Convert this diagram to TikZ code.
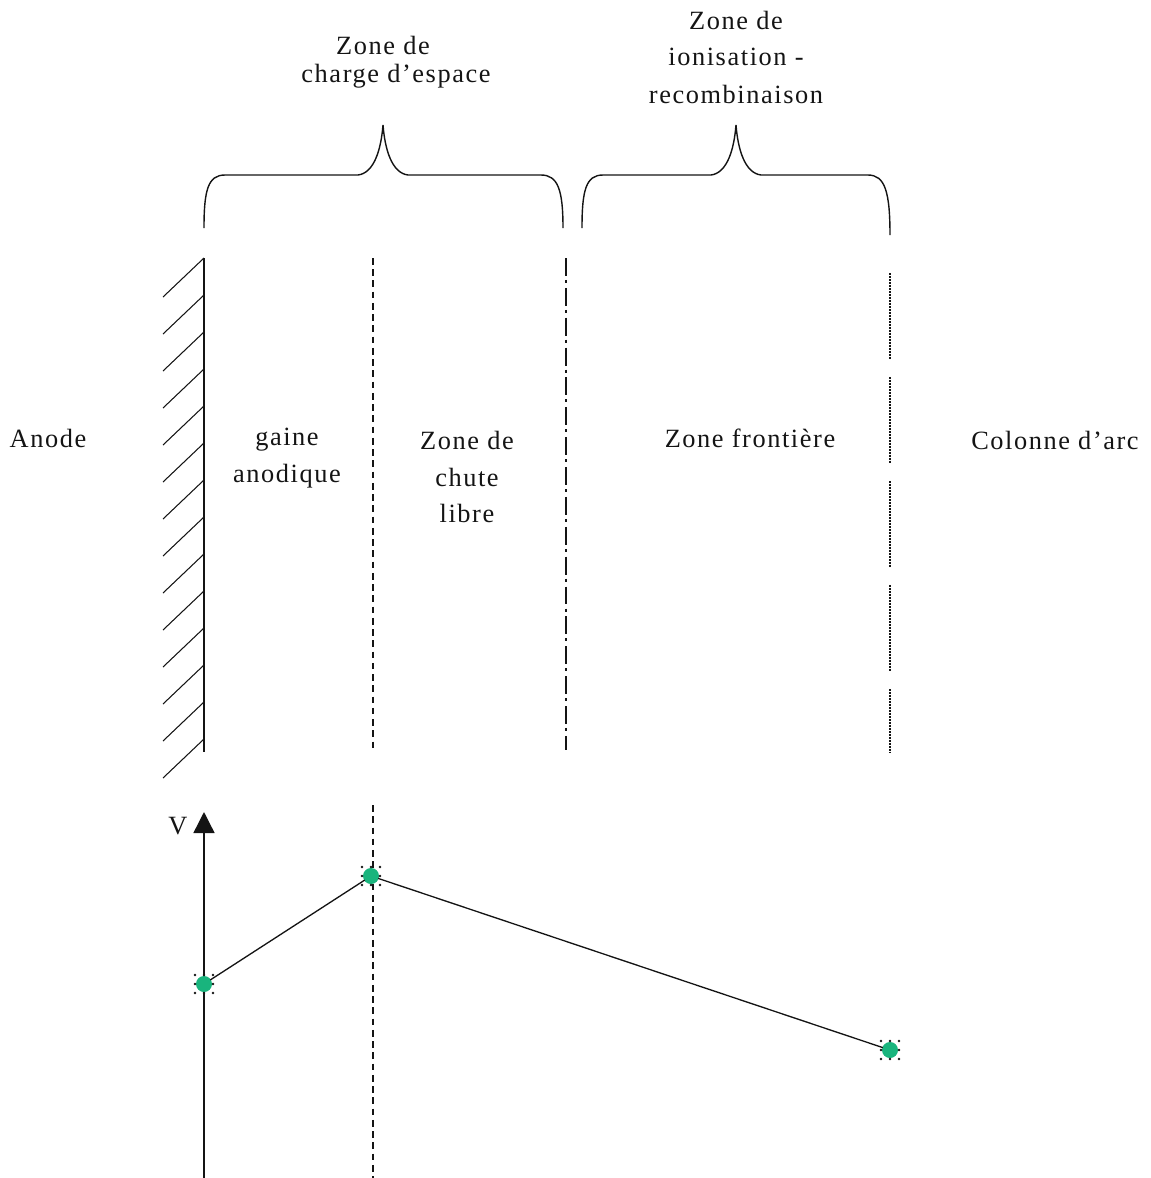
\documentclass[tikz,border=0pt]{standalone}
\usepackage{fontspec}
\setmainfont[LetterSpace=6]{Liberation Serif}
\usetikzlibrary{arrows.meta}
\definecolor{mkgreen}{RGB}{25,180,125}
\definecolor{ink}{RGB}{20,20,20}
\tikzset{
  lbl/.style={font=\fontsize{15}{18}\selectfont, text=ink, inner sep=0pt, anchor=center},
  brace/.style={draw=ink, line width=0.8pt},
  wall/.style={draw=ink, line width=1.5pt},
  hatch/.style={draw=ink, line width=0.6pt},
  dashline/.style={draw=ink, line width=0.8pt, dash pattern=on 3.8pt off 2.6pt},
  dashdot/.style={draw=ink, line width=0.8pt, dash pattern=on 10.2pt off 2.3pt on 1.7pt off 2.8pt},
  dotline/.style={draw=ink, line width=1pt, dash pattern=on 1.1pt off 0.6pt},
  curve/.style={draw=ink, line width=0.75pt},
  mk/.style={circle, fill=mkgreen, minimum size=0.32cm, inner sep=0pt},
}
\begin{document}
\begin{tikzpicture}[x=0.02cm, y=-0.02cm]
\useasboundingbox (0,0) rectangle (1151,1178);
% top labels
\node[lbl] (t1a) at (383,45) {Zone de};
\node[lbl] (t1b) at (396,76) {charge d’espace};
\node[lbl] (t2a) at (736,20) {Zone de};
\node[lbl] (t2b) at (736,57) {ionisation -};
\node[lbl] (t2c) at (736,94) {recombinaison};
% braces
\draw[brace] (204,228) .. controls (204,190) and (208,175) .. (225,175) -- (358,175)
  .. controls (374,173) and (381,150) .. (383,125)
  .. controls (385,150) and (392,173) .. (408,175) -- (541,175)
  .. controls (558,175) and (563,190) .. (563,228);
\draw[brace] (582,228) .. controls (582,190) and (586,175) .. (603,175) -- (711,175)
  .. controls (727,173) and (734,150) .. (736,125)
  .. controls (738,150) and (745,173) .. (761,175) -- (868,175)
  .. controls (885,175) and (890,192) .. (890,235);
% anode wall
\coordinate (w1) at (204,258);
\coordinate (w2) at (204,752);
\draw[wall] (w1) -- (w2);
\foreach \k in {0,...,13}{
  \draw[hatch] (204,258+37*\k) -- (163,297+37*\k);
}
% boundary lines
\coordinate (d1) at (373,258);
\coordinate (d2) at (373,752);
\draw[dashline] (d1) -- (d2);
\coordinate (e1) at (566,258);
\coordinate (e2) at (566,750);
\draw[dashdot] (e1) -- (e2);
\foreach \s/\e in {273/359,377/463,481/567,585/671,689/752}{
  \draw[dotline] (890,\s) -- (890,\e);
}
% middle labels
\node[lbl] (anode) at (48,438) {Anode};
\node[lbl] (g1) at (287,440) {gaine};
\node[lbl] (g2) at (287,476) {anodique};
\node[lbl] (c1) at (467,440) {Zone de};
\node[lbl] (c2) at (467,477) {chute};
\node[lbl] (c3) at (467,513) {libre};
\node[lbl] (zf) at (750,438) {Zone frontière};
\node[lbl] (ca) at (1055,440) {Colonne d’arc};
% lower plot
\coordinate (ax0) at (204,1178);
\coordinate (ax1) at (204,812);
\draw[draw=ink, line width=0.8pt, -{Triangle[length=12pt,width=12pt]}] (ax0) -- (ax1);
\node[lbl] (vl) at (178,826) {V};
\coordinate (dd1) at (373,805);
\coordinate (dd2) at (373,1178);
\draw[dashline] (dd1) -- (dd2);
\node[mk] (p1) at (204,984) {};
\node[mk] (p2) at (371,876) {};
\node[mk] (p3) at (890,1050) {};
\draw[curve] (p1.center) -- (p2.center) -- (p3.center);
\foreach \p in {p1,p2,p3}{
  \fill[mkgreen] (\p) circle (7.5);
  \foreach \dx/\dy in {-9/-9,0/-9,9/-9,-9/0,9/0,-9/9,0/9,9/9}{
    \fill[ink] ([shift={(\dx*0.02cm,-\dy*0.02cm)}]\p.center) circle (1.4);
  }
}
\end{tikzpicture}
\end{document}
